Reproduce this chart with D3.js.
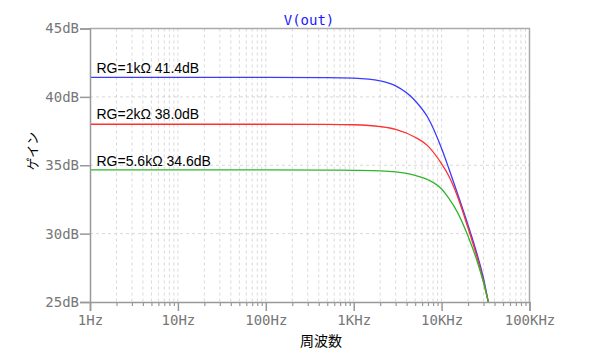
<!DOCTYPE html>
<html><head><meta charset="utf-8">
<script src="https://cdn.jsdelivr.net/npm/d3@7"></script>
<style>body{margin:0;background:#fff}svg{display:block}</style>
</head><body>
<svg id="c" width="600" height="360"></svg>
<script>
const title = "V(out)";
const xLabel = "周波数";
const yLabel = "ゲイン";
const xTickValues = [1, 10, 100, 1000, 10000, 100000];
const xTickLabels = ["1Hz", "10Hz", "100Hz", "1KHz", "10KHz", "100KHz"];
const yTickValues = [25, 30, 35, 40, 45];
const yTickLabels = ["25dB", "30dB", "35dB", "40dB", "45dB"];
const seriesNames = ["RG=1kΩ 41.4dB", "RG=2kΩ 38.0dB", "RG=5.6kΩ 34.6dB"];
const seriesColors = ["#3b3bff", "#ff3030", "#2fb52f"];
const labelDb = [41.4, 38.0, 34.6];

const freqs = [1, 100, 500, 1000, 2000, 3000, 5000, 7000, 10000, 12000, 15000, 20000, 25000, 30000, 34000];
const blueDb  = [41.42, 41.42, 41.41, 41.37, 41.17, 40.80, 39.72, 38.47, 36.22, 34.82, 33.02, 30.62, 28.62, 26.72, 24.97];
const redDb   = [38.00, 38.00, 37.99, 37.96, 37.83, 37.63, 37.05, 36.40, 35.10, 34.25, 32.80, 30.40, 28.40, 26.50, 25.00];
const greenDb = [34.66, 34.66, 34.65, 34.63, 34.59, 34.51, 34.26, 33.94, 33.26, 32.61, 31.61, 29.81, 28.11, 26.41, 25.00];
const seriesDb = [blueDb, redDb, greenDb];

const svg = d3.select("#c");
const L = 90, R = 529.5, T = 28.5, B = 302;
const x = d3.scaleLog().domain([1, 100000]).range([L, R]);
const y = d3.scaleLinear().domain([25, 45]).range([B, T]);
const mono = "'DejaVu Sans Mono', monospace";
const gridColor = "#d8d8d8";

const minor = [];
for (let d = 1; d < 100000; d *= 10) for (let k = 2; k <= 9; k++) minor.push(d * k);

const grid = svg.append("g");
grid.selectAll("line.v").data(minor.concat(xTickValues.slice(1, -1))).join("line")
  .attr("x1", d => x(d)).attr("x2", d => x(d)).attr("y1", T).attr("y2", B)
  .attr("stroke", gridColor).attr("stroke-dasharray", "3,3").attr("stroke-width", 1);
grid.selectAll("line.h").data(yTickValues.slice(1, -1)).join("line")
  .attr("x1", L).attr("x2", R).attr("y1", d => y(d)).attr("y2", d => y(d))
  .attr("stroke", gridColor).attr("stroke-dasharray", "3,3").attr("stroke-width", 1);

svg.append("path").attr("d", `M${L},${T}H${R}V${B}`).attr("fill", "none")
  .attr("stroke", "#aaa").attr("stroke-width", 1.5);

svg.append("clipPath").attr("id", "clip").append("rect")
  .attr("x", L).attr("y", T).attr("width", R - L).attr("height", B - T);

const line = d3.line().x(d => x(d[0])).y(d => y(d[1])).curve(d3.curveMonotoneX);
seriesDb.forEach((vals, i) => {
  svg.append("path").datum(freqs.map((f, j) => [f, vals[j]]))
    .attr("d", line).attr("fill", "none").attr("stroke", seriesColors[i])
    .attr("stroke-width", 1.3).attr("clip-path", "url(#clip)");
});

const xAxis = d3.axisBottom(x).tickValues(xTickValues)
  .tickFormat((d, i) => xTickLabels[i]).tickSize(9).tickPadding(4);
const gx = svg.append("g").attr("transform", `translate(0,${B})`).call(xAxis);
gx.select(".domain").attr("stroke", "#999").attr("stroke-width", 1.5);
gx.selectAll(".tick line").attr("stroke", "#999").attr("stroke-width", 1.5);
gx.selectAll("text").attr("fill", "#777").style("font-family", mono).style("font-size", "14px");
const xMinor = d3.axisBottom(x).tickValues(minor).tickSize(4).tickFormat("");
const gxm = svg.append("g").attr("transform", `translate(0,${B})`).call(xMinor);
gxm.select(".domain").remove();
gxm.selectAll(".tick line").attr("stroke", "#999").attr("stroke-width", 1.2);

const yAxis = d3.axisLeft(y).tickValues(yTickValues)
  .tickFormat((d, i) => yTickLabels[i]).tickSize(10).tickPadding(1);
const gy = svg.append("g").attr("transform", `translate(${L},0)`).call(yAxis);
gy.select(".domain").attr("stroke", "#999").attr("stroke-width", 1.5);
gy.selectAll(".tick line").attr("stroke", "#999").attr("stroke-width", 1.5);
gy.selectAll("text").attr("fill", "#777").style("font-family", mono).style("font-size", "14px");

svg.append("text").attr("x", 309).attr("y", 25).attr("text-anchor", "middle")
  .attr("fill", "#1a1aff").style("font-family", mono).style("font-size", "14px").text(title);

seriesNames.forEach((n, i) => {
  svg.append("text").attr("x", 96.5).attr("y", y(labelDb[i]) - 5)
    .attr("fill", "#000").style("font-family", "'Liberation Sans', Arial, sans-serif")
    .style("font-size", "14px").text(n);
});

svg.append("text").attr("x", 321).attr("y", 346).attr("text-anchor", "middle")
  .style("font-family", "'Noto Sans CJK JP', sans-serif").style("font-size", "14px").text(xLabel);
svg.append("text").attr("transform", "translate(37,151) rotate(-90)").attr("text-anchor", "middle")
  .style("font-family", "'Noto Sans CJK JP', sans-serif").style("font-size", "13px").text(yLabel);
</script>
</body></html>
